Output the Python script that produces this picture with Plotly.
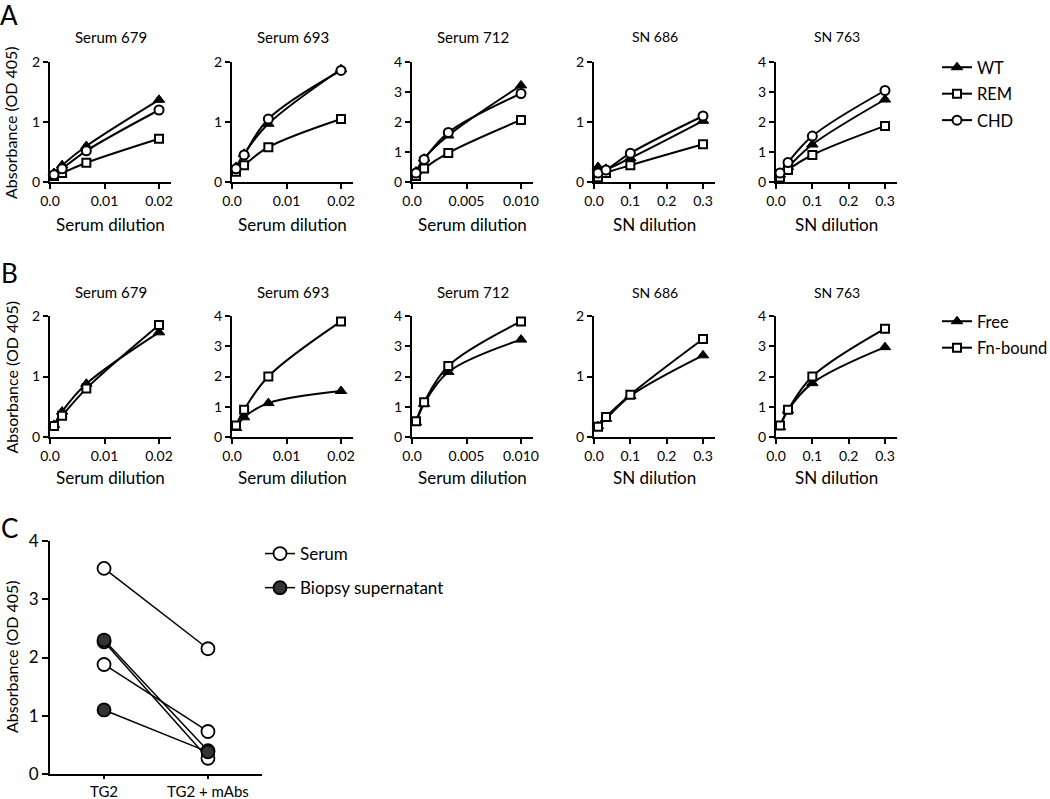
import plotly.graph_objs as go

W, H = 1050, 799
FONT = "Lato"

# dilutions (x values)
serum_dil = [0.00074, 0.00222, 0.00667, 0.02]
serum712_dil = [0.00037, 0.00111, 0.00333, 0.01]
sn_dil = [0.011, 0.033, 0.1, 0.3]

# panel A: WT / REM / CHD
a679_wt = [0.15, 0.28, 0.60, 1.37]
a679_rem = [0.10, 0.15, 0.32, 0.72]
a679_chd = [0.12, 0.22, 0.52, 1.20]

a693_wt = [0.25, 0.47, 0.97, 1.88]
a693_rem = [0.17, 0.28, 0.58, 1.05]
a693_chd = [0.22, 0.45, 1.05, 1.86]

a712_wt = [0.35, 0.78, 1.55, 3.22]
a712_rem = [0.20, 0.45, 0.97, 2.07]
a712_chd = [0.30, 0.75, 1.65, 2.95]

a686_wt = [0.25, 0.22, 0.40, 1.02]
a686_rem = [0.08, 0.15, 0.28, 0.63]
a686_chd = [0.15, 0.20, 0.48, 1.10]

a763_wt = [0.25, 0.50, 1.25, 2.75]
a763_rem = [0.15, 0.40, 0.90, 1.87]
a763_chd = [0.30, 0.65, 1.53, 3.05]

# panel B: Free / Fn-bound
b679_free = [0.20, 0.42, 0.88, 1.73]
b679_fn = [0.18, 0.35, 0.80, 1.85]

b693_free = [0.30, 0.65, 1.12, 1.52]
b693_fn = [0.38, 0.90, 2.00, 3.82]

b712_free = [0.48, 1.10, 2.15, 3.22]
b712_fn = [0.52, 1.15, 2.35, 3.82]

b686_free = [0.18, 0.30, 0.68, 1.35]
b686_fn = [0.17, 0.33, 0.70, 1.62]

b763_free = [0.33, 0.88, 1.78, 2.97]
b763_fn = [0.38, 0.90, 2.00, 3.58]

# panel C
c_cats = ["TG2", "TG2 + mAbs"]
c_serum = [[3.53, 2.15], [1.88, 0.73], [2.27, 0.27]]
c_biopsy = [[2.30, 0.40], [1.10, 0.38]]

titles = ["Serum 679", "Serum 693", "Serum 712", "SN 686", "SN 763"]
xtitles = ["Serum dilution", "Serum dilution", "Serum dilution", "SN dilution", "SN dilution"]
xdil = [serum_dil, serum_dil, serum712_dil, sn_dil, sn_dil]
a_sets = [(a679_wt, a679_rem, a679_chd), (a693_wt, a693_rem, a693_chd),
          (a712_wt, a712_rem, a712_chd), (a686_wt, a686_rem, a686_chd),
          (a763_wt, a763_rem, a763_chd)]
b_sets = [(b679_free, b679_fn), (b693_free, b693_fn), (b712_free, b712_fn),
          (b686_free, b686_fn), (b763_free, b763_fn)]
a_ymax = [2, 2, 4, 2, 4]
b_ymax = [2, 4, 4, 2, 4]

# x ticks per column
xticks = [([0, 0.01, 0.02], ["0.0", "0.01", "0.02"]),
          ([0, 0.01, 0.02], ["0.0", "0.01", "0.02"]),
          ([0, 0.005, 0.01], ["0.0", "0.005", "0.010"]),
          ([0, 0.1, 0.2, 0.3], ["0.0", "0.1", "0.2", "0.3"]),
          ([0, 0.1, 0.2, 0.3], ["0.0", "0.1", "0.2", "0.3"])]
xmax = [0.0222, 0.0222, 0.0111, 0.333, 0.333]

col_left = [50, 232, 412, 594, 776]
col_w = 121


# pixel -> paper fraction
def px(x):
    return x / W


def py(y):
    return 1 - y / H


fig = go.Figure()
layout = dict(width=W, height=H,
              margin=dict(l=0, r=0, t=0, b=0, autoexpand=False),
              paper_bgcolor="white", plot_bgcolor="white",
              font=dict(family=FONT, color="black", size=14),
              showlegend=True)
annotations = []

tri = dict(symbol="triangle-up", size=10, color="black", line=dict(color="black", width=1))
sq = dict(symbol="square", size=8, color="white", line=dict(color="black", width=2))
circ = dict(symbol="circle", size=9, color="white", line=dict(color="black", width=2))
line = dict(color="black", width=2, shape="spline", smoothing=1)


def note(text, x, y, size, angle=0):
    return dict(text=text, x=px(x), y=py(y), xref="paper", yref="paper",
                showarrow=False, xanchor="center", yanchor="middle",
                textangle=angle, font=dict(size=size))


def axis_style(n, domain_x, domain_y, xr, yr, tv, tt, ymax):
    xa = dict(domain=domain_x, range=xr, showgrid=False, zeroline=False,
              showline=True, linecolor="black", linewidth=2, automargin=False,
              ticks="outside", ticklen=5, tickwidth=2, tickcolor="black",
              tickvals=tv, ticktext=tt, tickfont=dict(size=14),
              anchor="y%d" % n)
    ya = dict(domain=domain_y, range=yr, showgrid=False, zeroline=False,
              showline=True, linecolor="black", linewidth=2, automargin=False,
              ticks="outside", ticklen=5, tickwidth=2, tickcolor="black",
              tickvals=list(range(0, ymax + 1)), tickfont=dict(size=14),
              anchor="x%d" % n)
    return xa, ya


n = 0
rows = [(62, 182, a_sets, a_ymax, 37, 224), (316, 437, b_sets, b_ymax, 292, 478)]
for r, (ytop, ybot, sets, ymaxes, ttl_y, xt_y) in enumerate(rows):
    for c in range(5):
        n += 1
        xa, ya = axis_style(n, [px(col_left[c]), px(col_left[c] + col_w)],
                            [py(ybot), py(ytop)], [0, xmax[c]], [0, ymaxes[c]],
                            xticks[c][0], xticks[c][1], ymaxes[c])
        layout["xaxis%d" % n] = xa
        layout["yaxis%d" % n] = ya
        xs = xdil[c]
        if r == 0:
            wt, rem, chd = sets[c]
            series = [("WT", wt, tri), ("REM", rem, sq), ("CHD", chd, circ)]
            lg = "legend"
        else:
            free, fn = sets[c]
            series = [("Free", free, tri), ("Fn-bound", fn, sq)]
            lg = "legend2"
        for name, ys, mk in series:
            fig.add_trace(go.Scatter(x=xs, y=ys, mode="lines+markers", name=name,
                                     marker=mk, line=line, cliponaxis=False,
                                     xaxis="x%d" % n, yaxis="y%d" % n,
                                     legend=lg, legendgroup=name,
                                     showlegend=(c == 0)))
        annotations.append(note(titles[c], col_left[c] + col_w / 2, ttl_y, 15 if c < 3 else 14))
        annotations.append(note(xtitles[c], col_left[c] + col_w / 2, xt_y, 17))
    annotations.append(note("Absorbance (OD 405)", 11, (ytop + ybot) / 2 + 1, 16, -90))

# panel C
n += 1
layout["xaxis%d" % n] = dict(domain=[px(50), px(262)], range=[-0.52, 1.52], showgrid=False,
                             zeroline=False, showline=True, linecolor="black", linewidth=2,
                             automargin=False,
                             ticks="outside", ticklen=3, tickwidth=2, tickcolor="black",
                             tickvals=[0, 1], ticktext=c_cats, tickfont=dict(size=15),
                             anchor="y%d" % n)
layout["yaxis%d" % n] = dict(domain=[py(774), py(541)], range=[0, 4], showgrid=False,
                             zeroline=False, showline=True, linecolor="black", linewidth=2,
                             automargin=False,
                             ticks="outside", ticklen=6, tickwidth=2, tickcolor="black",
                             tickvals=[0, 1, 2, 3, 4], tickfont=dict(size=17),
                             anchor="x%d" % n)
for i, ys in enumerate(c_serum):
    fig.add_trace(go.Scatter(x=[0, 1], y=ys, mode="lines+markers", name="Serum",
                             marker=dict(symbol="circle", size=13, color="white",
                                         line=dict(color="black", width=1.8)),
                             line=dict(color="black", width=1.5), cliponaxis=False,
                             xaxis="x%d" % n, yaxis="y%d" % n, legend="legend3",
                             legendgroup="Serum", showlegend=(i == 0)))
for i, ys in enumerate(c_biopsy):
    fig.add_trace(go.Scatter(x=[0, 1], y=ys, mode="lines+markers", name="Biopsy supernatant",
                             marker=dict(symbol="circle", size=13, color="#333333",
                                         line=dict(color="black", width=1.8)),
                             line=dict(color="black", width=1.5), cliponaxis=False,
                             xaxis="x%d" % n, yaxis="y%d" % n, legend="legend3",
                             legendgroup="Biopsy", showlegend=(i == 0)))
annotations.append(note("Absorbance (OD 405)", 11, 657, 16, -90))

# panel letters
for letter, yy in [("A", 15), ("B", 273), ("C", 528)]:
    annotations.append(note(letter, 9, yy, 26))

layout["annotations"] = annotations
leg_common = dict(xref="paper", yref="paper", xanchor="left", yanchor="top",
                  bgcolor="rgba(0,0,0,0)", itemwidth=30, traceorder="grouped")
layout["legend"] = dict(x=px(937), y=py(50), font=dict(size=16.5), tracegroupgap=2, **leg_common)
layout["legend2"] = dict(x=px(937), y=py(304), font=dict(size=16.5), tracegroupgap=2, **leg_common)
layout["legend3"] = dict(x=px(260), y=py(536), font=dict(size=17), tracegroupgap=9, **leg_common)

fig.update_layout(**layout)
# drop the default 8px page margin so the figure fills the window exactly
fig.write_html("out.html", config={"displayModeBar": False},
               post_script="document.body.style.margin = '0px';")
